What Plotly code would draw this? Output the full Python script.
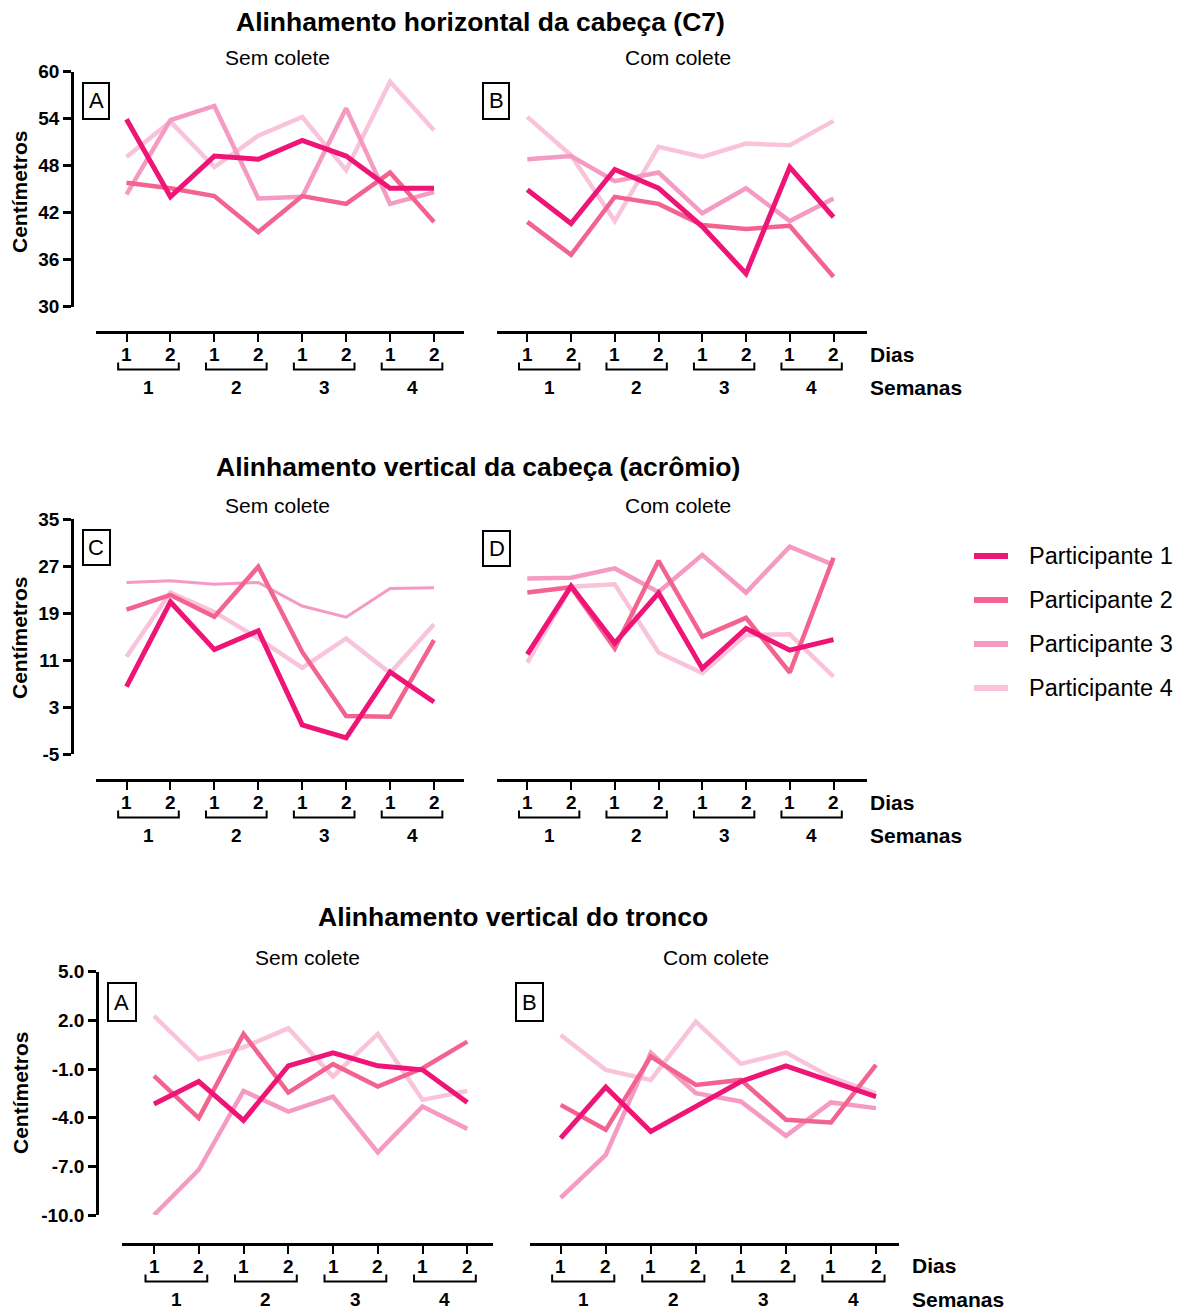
import plotly.graph_objects as go

# ---------------- DATA ----------------
sessions = [1, 2, 3, 4, 5, 6, 7, 8]
day_labels = ["1", "2", "1", "2", "1", "2", "1", "2"]
week_labels = ["1", "2", "3", "4"]
participants = ["Participante 1", "Participante 2", "Participante 3", "Participante 4"]

# Alinhamento horizontal da cabeça (C7)
hor_sem_p1 = [53.9, 44.0, 49.2, 48.8, 51.2, 49.2, 45.1, 45.1]
hor_sem_p2 = [45.8, 45.1, 44.1, 39.5, 44.1, 43.1, 47.1, 40.8]
hor_sem_p3 = [44.3, 53.8, 55.6, 43.8, 44.0, 55.3, 43.1, 44.6]
hor_sem_p4 = [49.1, 53.6, 47.8, 51.8, 54.2, 47.4, 58.7, 52.5]
hor_com_p1 = [44.9, 40.6, 47.5, 45.1, 40.2, 34.2, 47.8, 41.4]
hor_com_p2 = [40.8, 36.6, 44.0, 43.1, 40.4, 39.9, 40.3, 33.8]
hor_com_p3 = [48.8, 49.2, 46.0, 47.1, 41.9, 45.1, 40.9, 43.8]
hor_com_p4 = [54.2, 49.3, 40.9, 50.4, 49.1, 50.8, 50.6, 53.7]

# Alinhamento vertical da cabeça (acrômio)
ver_sem_p1 = [6.5, 20.9, 12.8, 16.0, 0.0, -2.2, 9.0, 3.9]
ver_sem_p2 = [19.6, 22.1, 18.4, 26.9, 12.4, 1.5, 1.4, 14.4]
ver_sem_p3 = [24.2, 24.5, 23.9, 24.2, 20.2, 18.3, 23.2, 23.3]
ver_sem_p4 = [11.6, 22.5, 19.2, 14.7, 9.7, 14.7, 8.8, 17.1]
ver_com_p1 = [12.0, 23.6, 13.9, 22.4, 9.6, 16.4, 12.7, 14.5]
ver_com_p2 = [22.5, 23.4, 13.0, 27.9, 15.0, 18.2, 8.9, 28.4]
ver_com_p3 = [24.9, 25.0, 26.6, 22.6, 28.9, 22.5, 30.3, 27.2]
ver_com_p4 = [10.6, 23.5, 23.9, 12.3, 8.8, 15.3, 15.4, 8.2]

# Alinhamento vertical do tronco
tro_sem_p1 = [-3.15, -1.77, -4.17, -0.81, 0.0, -0.8, -1.05, -3.06]
tro_sem_p2 = [-1.42, -4.03, 1.16, -2.45, -0.7, -2.08, -0.95, 0.69]
tro_sem_p3 = [-10.0, -7.21, -2.35, -3.62, -2.7, -6.14, -3.31, -4.69]
tro_sem_p4 = [2.27, -0.4, 0.34, 1.51, -1.46, 1.16, -2.9, -2.35]
tro_com_p1 = [-5.26, -2.12, -4.85, -3.31, -1.77, -0.81, -1.77, -2.7]
tro_com_p2 = [-3.21, -4.75, -0.23, -1.98, -1.67, -4.13, -4.3, -0.75]
tro_com_p3 = [-8.95, -6.29, 0.0, -2.49, -3.0, -5.12, -3.06, -3.41]
tro_com_p4 = [1.1, -1.05, -1.67, 1.92, -0.68, 0.01, -1.5, -2.5]

hor_ticks = [30, 36, 42, 48, 54, 60]
hor_ticktext = ["30", "36", "42", "48", "54", "60"]
ver_ticks = [-5, 3, 11, 19, 27, 35]
ver_ticktext = ["-5", "3", "11", "19", "27", "35"]
tro_ticks = [-10, -7, -4, -1, 2, 5]
tro_ticktext = ["-10.0", "-7.0", "-4.0", "-1.0", "2.0", "5.0"]

section_titles = ["Alinhamento horizontal da cabeça (C7)",
                  "Alinhamento vertical da cabeça (acrômio)",
                  "Alinhamento vertical do tronco"]
condition_titles = ["Sem colete", "Com colete"]
panel_letters = ["A", "B", "C", "D", "A", "B"]

# ---------------- STYLE / LAYOUT ----------------
OFF = 8                      # page body margin
W, H = 1181 - OFF, 1311 - OFF
FONT = "Liberation Sans, Arial, sans-serif"
colors = ["#EE1577", "#F2638F", "#F59AC2", "#F9C4DB"]
widths = [5, 4.5, 4.5, 4.5]


def px(x):
    return (x - OFF) / W


def py(y):
    return 1 - (y - OFF) / H


panel_series = [
    [hor_sem_p1, hor_sem_p2, hor_sem_p3, hor_sem_p4],
    [hor_com_p1, hor_com_p2, hor_com_p3, hor_com_p4],
    [ver_sem_p1, ver_sem_p2, ver_sem_p3, ver_sem_p4],
    [ver_com_p1, ver_com_p2, ver_com_p3, ver_com_p4],
    [tro_sem_p1, tro_sem_p2, tro_sem_p3, tro_sem_p4],
    [tro_com_p1, tro_com_p2, tro_com_p3, tro_com_p4],
]
yticks = [(hor_ticks, hor_ticktext), (hor_ticks, hor_ticktext),
          (ver_ticks, ver_ticktext), (ver_ticks, ver_ticktext),
          (tro_ticks, tro_ticktext), (tro_ticks, tro_ticktext)]

geom = [
    dict(xl=96, xr=464, p1=126.5, p8=434.0, ytop=71.5, ybot=306.5, axy=331.5, yax=72, left=True, box=(83, 83, 109, 119)),
    dict(xl=497, xr=867, p1=527.3, p8=833.5, ytop=71.5, ybot=306.5, axy=331.5, yax=None, left=False, box=(483, 83, 509, 119)),
    dict(xl=96, xr=464, p1=126.5, p8=434.0, ytop=519.0, ybot=754.3, axy=779.5, yax=72, left=True, box=(83, 530, 110, 565)),
    dict(xl=497, xr=867, p1=527.3, p8=833.5, ytop=519.0, ybot=754.3, axy=779.5, yax=None, left=False, box=(483, 531, 510, 566)),
    dict(xl=122, xr=493, p1=154.0, p8=467.3, ytop=971.7, ybot=1215.0, axy=1243.5, yax=97, left=True, box=(108, 983, 136, 1021)),
    dict(xl=530, xr=899, p1=560.7, p8=876.0, ytop=971.7, ybot=1215.0, axy=1243.5, yax=None, left=False, box=(516, 983, 543, 1021)),
]

fig = go.Figure()
layout = dict(
    width=W, height=H,
    margin=dict(l=0, r=0, t=0, b=0, pad=0, autoexpand=False),
    paper_bgcolor="white", plot_bgcolor="rgba(0,0,0,0)",
    showlegend=False,
    font=dict(family=FONT, color="black"),
)
shapes = []
annotations = []

for i, g in enumerate(geom):
    k = i + 1
    xa = "x" if k == 1 else f"x{k}"
    ya = "y" if k == 1 else f"y{k}"
    xkey = "xaxis" if k == 1 else f"xaxis{k}"
    ykey = "yaxis" if k == 1 else f"yaxis{k}"
    sp = (g["p8"] - g["p1"]) / 7.0
    xlo = 1 - (g["p1"] - g["xl"]) / sp
    xhi = 8 + (g["xr"] - g["p8"]) / sp
    tv, tt = yticks[i]

    layout[xkey] = dict(
        domain=[px(g["xl"]), px(g["xr"])], anchor="free", position=py(g["axy"]),
        range=[xlo, xhi], showline=True, linecolor="black", linewidth=3,
        ticks="outside", ticklen=8, tickwidth=2, tickcolor="black",
        tickvals=sessions, showticklabels=False,
        showgrid=False, zeroline=False, fixedrange=True, automargin=False,
    )
    ydict = dict(
        domain=[py(g["ybot"]), py(g["ytop"])], anchor="free",
        range=[tv[0], tv[-1]], showgrid=False, zeroline=False, fixedrange=True,
        automargin=False,
    )
    if g["left"]:
        ydict.update(
            position=px(g["yax"]), showline=True, linecolor="black", linewidth=2.5,
            ticks="outside", ticklen=8, tickwidth=2.5, tickcolor="black",
            tickvals=tv, ticktext=[f"<b>{t}</b>" for t in tt],
            tickfont=dict(size=19, family=FONT, color="black"),
        )
    else:
        ydict.update(position=px(g["xl"]), visible=False)
    layout[ykey] = ydict

    series = panel_series[i]
    for j in [3, 2, 1, 0]:
        w = widths[j]
        if i == 2 and j == 2:
            w = 3
        fig.add_trace(go.Scatter(
            x=sessions, y=series[j], mode="lines", name=participants[j],
            line=dict(color=colors[j], width=w), xaxis=xa, yaxis=ya,
            hoverinfo="skip",
        ))

    # day labels
    for s, d in zip(sessions, day_labels):
        annotations.append(dict(
            x=s, y=py(g["axy"] + 22.5), xref=xa, yref="paper",
            text=f"<b>{d}</b>", showarrow=False,
            font=dict(size=19, family=FONT, color="black"),
            xanchor="center", yanchor="middle",
        ))

    # week brackets and labels
    by0 = g["axy"] + 31
    by1 = g["axy"] + 38
    for wk in range(4):
        a = 2 * wk + 1 - 0.19
        b = 2 * wk + 2 + 0.19
        shapes.append(dict(
            type="path", xref=xa, yref="paper",
            path=f"M {a},{py(by0)} L {a},{py(by1)} L {b},{py(by1)} L {b},{py(by0)}",
            line=dict(color="black", width=2),
        ))
        annotations.append(dict(
            x=2 * wk + 1.5, y=py(g["axy"] + 55.5), xref=xa, yref="paper",
            text=f"<b>{week_labels[wk]}</b>", showarrow=False,
            font=dict(size=19, family=FONT, color="black"),
            xanchor="center", yanchor="middle",
        ))

    # panel letter box
    x0, y0, x1, y1 = g["box"]
    shapes.append(dict(type="rect", xref="paper", yref="paper",
                       x0=px(x0), x1=px(x1), y0=py(y1), y1=py(y0),
                       line=dict(color="black", width=2), fillcolor="white"))
    annotations.append(dict(x=px((x0 + x1) / 2), y=py((y0 + y1) / 2), xref="paper", yref="paper",
                            text=panel_letters[i], showarrow=False,
                            font=dict(size=22, family=FONT, color="black"),
                            xanchor="center", yanchor="middle"))

sec = [
    dict(title_xy=(480, 21.5), cond=[(277, 57), (678, 57)], ytitle=(19, 192), dias=(868, 354), sem=(868, 387)),
    dict(title_xy=(478, 467), cond=[(277, 505), (678, 505)], ytitle=(19, 638), dias=(868, 802), sem=(868, 835)),
    dict(title_xy=(513, 917), cond=[(307, 957), (716, 957)], ytitle=(20, 1093), dias=(910, 1265), sem=(910, 1299)),
]
for s, t in zip(sec, section_titles):
    annotations.append(dict(x=px(s["title_xy"][0]), y=py(s["title_xy"][1]), xref="paper", yref="paper",
                            text=f"<b>{t}</b>", showarrow=False,
                            font=dict(size=26.5, family=FONT, color="black"),
                            xanchor="center", yanchor="middle"))
    for (cx, cy), ct in zip(s["cond"], condition_titles):
        annotations.append(dict(x=px(cx), y=py(cy), xref="paper", yref="paper",
                                text=ct, showarrow=False,
                                font=dict(size=21, family=FONT, color="black"),
                                xanchor="center", yanchor="middle"))
    annotations.append(dict(x=px(s["ytitle"][0]), y=py(s["ytitle"][1]), xref="paper", yref="paper",
                            text="<b>Centímetros</b>", showarrow=False, textangle=-90,
                            font=dict(size=21, family=FONT, color="black"),
                            xanchor="center", yanchor="middle"))
    annotations.append(dict(x=px(s["dias"][0]), y=py(s["dias"][1]), xref="paper", yref="paper",
                            text="<b>Dias</b>", showarrow=False,
                            font=dict(size=21, family=FONT, color="black"),
                            xanchor="left", yanchor="middle"))
    annotations.append(dict(x=px(s["sem"][0]), y=py(s["sem"][1]), xref="paper", yref="paper",
                            text="<b>Semanas</b>", showarrow=False,
                            font=dict(size=21, family=FONT, color="black"),
                            xanchor="left", yanchor="middle"))

# legend (manual)
for j, name in enumerate(participants):
    ly = 556 + 44 * j
    shapes.append(dict(type="line", xref="paper", yref="paper",
                       x0=px(974), x1=px(1008), y0=py(ly), y1=py(ly),
                       line=dict(color=colors[j], width=6)))
    annotations.append(dict(x=px(1027), y=py(ly), xref="paper", yref="paper",
                            text=name, showarrow=False,
                            font=dict(size=23.5, family=FONT, color="black"),
                            xanchor="left", yanchor="middle"))

layout["shapes"] = shapes
layout["annotations"] = annotations
fig.update_layout(**layout)
fig.write_html("out.html")
